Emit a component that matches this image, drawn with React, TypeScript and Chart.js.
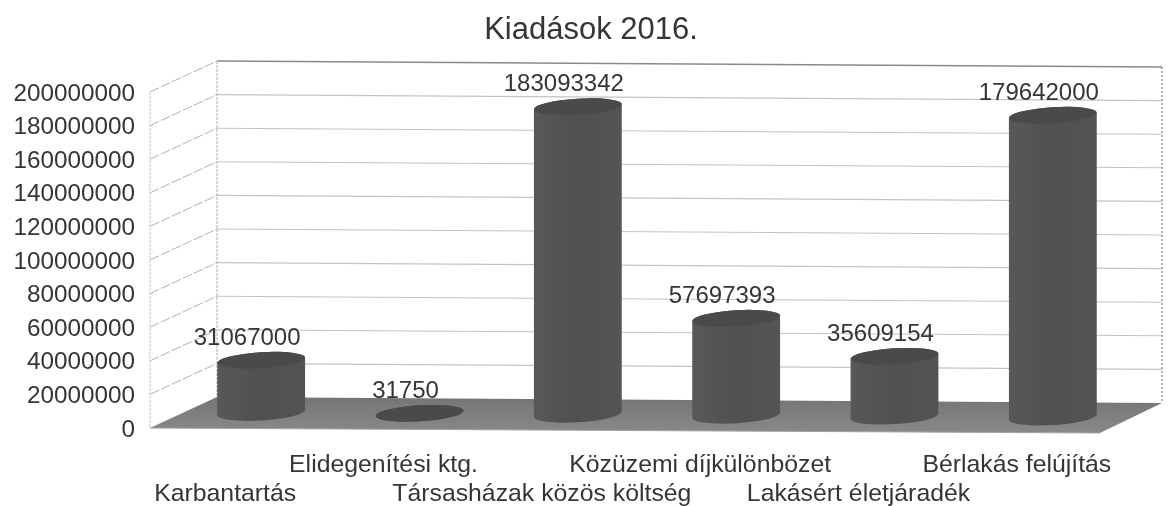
import React, { useEffect, useRef } from "react";
import { Chart, registerables } from "chart.js";

Chart.register(...registerables);

const categories = [
  "Karbantartás",
  "Elidegenítési ktg.",
  "Társasházak közös költség",
  "Közüzemi díjkülönbözet",
  "Lakásért életjáradék",
  "Bérlakás felújítás",
];
const expenses = [31067000, 31750, 183093342, 57697393, 35609154, 179642000];
const yMax = 200000000;
const yStep = 20000000;
const title = "Kiadások 2016.";

const TEXT = "#353535";
const FONT = "'Liberation Sans', Arial, sans-serif";

const depth3d = {
  id: "depth3d",
  beforeDatasetsDraw(chart: any) {
    const { ctx, chartArea: ca } = chart;
    const y = chart.scales.y;
    const L = ca.left;
    const R = ca.right;
    const backL = L + 67;
    const backR = R + 62;
    const up = 31;
    const tiltF = 5;
    const tiltB = 6;
    ctx.save();
    const base = y.getPixelForValue(0);
    // floor
    const floor = ctx.createLinearGradient(0, base - up, 0, base + tiltF);
    floor.addColorStop(0, "#757575");
    floor.addColorStop(1, "#898989");
    ctx.fillStyle = floor;
    ctx.beginPath();
    ctx.moveTo(L, base);
    ctx.lineTo(R, base + tiltF);
    ctx.lineTo(backR, base - up + tiltB);
    ctx.lineTo(backL, base - up);
    ctx.closePath();
    ctx.fill();
    ctx.strokeStyle = "#a2a2a2";
    ctx.lineWidth = 1;
    ctx.beginPath();
    ctx.moveTo(L, base);
    ctx.lineTo(R, base + tiltF);
    ctx.stroke();
    // gridlines
    for (let v = 0; v <= yMax; v += yStep) {
      const py = y.getPixelForValue(v);
      if (v > 0) {
        ctx.strokeStyle = v === yMax ? "#8a8a8a" : "#c4c4c4";
        ctx.lineWidth = v === yMax ? 1.3 : 1.1;
        ctx.setLineDash([]);
        ctx.beginPath();
        ctx.moveTo(backL, py - up);
        ctx.lineTo(backR, py - up + tiltB);
        ctx.stroke();
        ctx.strokeStyle = "#b0b0b0";
        ctx.lineWidth = 1;
        ctx.setLineDash([10, 2]);
        ctx.beginPath();
        ctx.moveTo(L, py);
        ctx.lineTo(backL, py - up);
        ctx.stroke();
        ctx.setLineDash([]);
      }
    }
    // verticals
    const top = y.getPixelForValue(yMax);
    ctx.strokeStyle = "#c8c8c8";
    ctx.lineWidth = 1;
    ctx.setLineDash([3, 1]);
    ctx.beginPath();
    ctx.moveTo(L, top);
    ctx.lineTo(L, base);
    ctx.stroke();
    ctx.lineWidth = 1.2;
    ctx.strokeStyle = "#bcbcbc";
    ctx.beginPath();
    ctx.moveTo(backL, top - up);
    ctx.lineTo(backL, base - up);
    ctx.stroke();
    ctx.strokeStyle = "#666666";
    ctx.lineWidth = 1;
    ctx.setLineDash([2, 2]);
    ctx.beginPath();
    ctx.moveTo(backR, top - up + tiltB);
    ctx.lineTo(backR, base - up + tiltB);
    ctx.stroke();
    ctx.restore();
  },
  afterDatasetsDraw(chart: any) {
    const { ctx, chartArea: ca } = chart;
    const meta = chart.getDatasetMeta(0);
    const values = chart.data.datasets[0].data as number[];
    const rot = (-3.5 * Math.PI) / 180;
    const b = 8;
    ctx.save();
    meta.data.forEach((bar: any, i: number) => {
      const a = bar.width / 2;
      const cx = bar.x + 32;
      const tilt = (bar.x - ca.left) * 0.0058;
      const yTop = bar.y - 16 + tilt;
      const yBot = bar.base - 16 + tilt;
      const g = ctx.createLinearGradient(cx - a, 0, cx + a, 0);
      g.addColorStop(0, "#585858");
      g.addColorStop(0.5, "#505050");
      g.addColorStop(1, "#545454");
      ctx.fillStyle = g;
      ctx.beginPath();
      ctx.ellipse(cx, yBot, a, b, rot, 0, Math.PI);
      ctx.ellipse(cx, yTop, a, b, rot, Math.PI, Math.PI * 2);
      ctx.closePath();
      ctx.fill();
      ctx.fillStyle = "#4a4a4a";
      ctx.beginPath();
      ctx.ellipse(cx, yTop, a, b, rot, 0, Math.PI * 2);
      ctx.fill();
      // value label
      ctx.fillStyle = TEXT;
      ctx.font = `24px ${FONT}`;
      ctx.textAlign = "center";
      ctx.textBaseline = "middle";
      ctx.fillText(String(values[i]), bar.x + 18, yTop - 22);
    });
    ctx.restore();
  },
};

export default function App() {
  const ref = useRef<HTMLCanvasElement | null>(null);
  useEffect(() => {
    if (!ref.current) return;
    const chart = new Chart(ref.current, {
      type: "bar",
      data: {
        labels: categories,
        datasets: [
          {
            label: "Kiadások",
            data: expenses,
            backgroundColor: "rgba(0,0,0,0)",
            borderWidth: 0,
            barThickness: 88,
          },
        ],
      },
      options: {
        animation: false,
        responsive: false,
        layout: { padding: { left: 14, right: 0, top: 0, bottom: 0 } },
        plugins: {
          legend: { display: false },
          tooltip: { enabled: false },
          title: {
            display: true,
            text: title,
            color: TEXT,
            font: { family: FONT, size: 31, weight: "normal", lineHeight: 1.2 },
            padding: { top: 12, bottom: 42.8 },
          },
        },
        scales: {
          x: {
            grid: { display: false, drawTicks: false },
            border: { display: false },
            ticks: {
              color: TEXT,
              autoSkip: false,
              maxRotation: 0,
              minRotation: 0,
              padding: 22,
              labelOffset: -4,
              font: { family: FONT, size: 24.8, lineHeight: 1.2 },
              callback(this: any, _v: any, i: number) {
                const name = categories[i];
                return i % 2 === 0 ? ["", name] : [name, ""];
              },
            },
            afterFit(s: any) {
              s.height = 78;
            },
          },
          y: {
            min: 0,
            max: yMax,
            grid: { display: false, drawTicks: false },
            border: { display: false },
            ticks: {
              stepSize: yStep,
              color: TEXT,
              padding: 15,
              labelOffset: 2,
              font: { family: FONT, size: 24.3 },
              callback(v: any) {
                return String(v);
              },
            },
            afterFit(s: any) {
              s.width = 136;
            },
          },
          yRight: {
            position: "right",
            grid: { display: false, drawTicks: false },
            border: { display: false },
            ticks: { display: false },
            afterFit(s: any) {
              s.width = 68;
            },
          },
        },
      } as any,
      plugins: [depth3d],
    });
    return () => chart.destroy();
  }, []);
  return (
    <div style={{ position: "absolute", left: 0, top: 0, width: 1168, height: 506, background: "#fff" }}>
      <canvas ref={ref} width={1168} height={506} style={{ display: "block" }} />
    </div>
  );
}
